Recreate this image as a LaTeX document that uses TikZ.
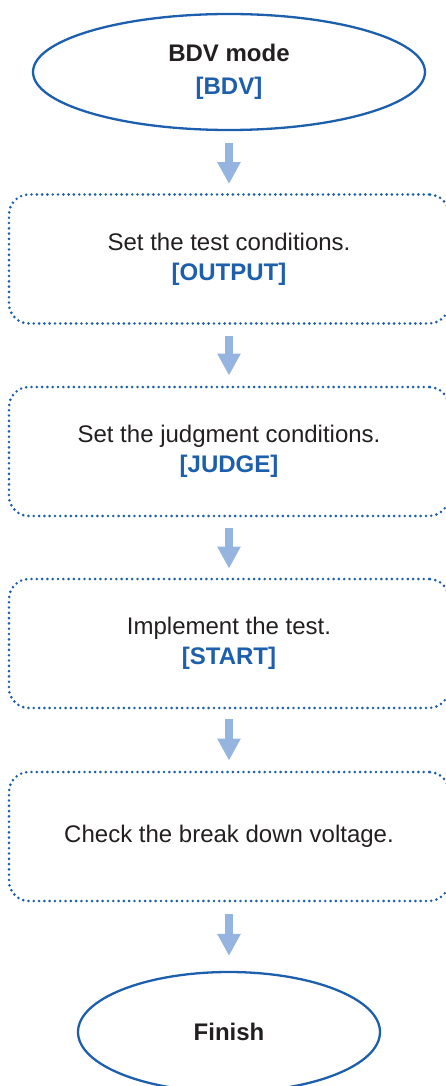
\documentclass[tikz,border=0pt]{standalone}
\usepackage{fontspec}
\setmainfont{Liberation Sans}
\usetikzlibrary{shapes.geometric,arrows.meta}
\definecolor{bblue}{HTML}{1D5FAC}
\definecolor{ablue}{HTML}{95B4E0}
\definecolor{tblack}{HTML}{231F20}
\begin{document}
\begin{tikzpicture}[x=1pt,y=1pt,
  txt/.style={font=\fontsize{24}{30}\selectfont, text=tblack, align=center},
  oval/.style={ellipse, draw=bblue, line width=2.3pt, inner sep=0pt, txt},
  stepbox/.style={rectangle, rounded corners=20pt, draw=bblue, line width=2.9pt,
     line cap=round, dash pattern=on 0pt off 5.3pt, minimum width=440pt,
     minimum height=129pt, inner sep=0pt, txt},
  flow/.style={draw=ablue, line width=8pt,
     -{Triangle[width=22pt,length=22pt,color=ablue]}}
]
\useasboundingbox (0,0) rectangle (446,-1086);
\node[oval, minimum width=392pt, minimum height=116pt] (start) at (229,-72)
  {\textbf{BDV mode}\\[3pt]\textcolor{bblue}{\textbf{[BDV]}}};
\node[stepbox] (s1) at (229,-259)
  {Set the test conditions.\\\textcolor{bblue}{\textbf{[OUTPUT]}}};
\node[stepbox] (s2) at (229,-451.5)
  {Set the judgment conditions.\\\textcolor{bblue}{\textbf{[JUDGE]}}};
\node[stepbox] (s3) at (229,-643.5)
  {Implement the test.\\\textcolor{bblue}{\textbf{[START]}}};
\node[stepbox] (s4) at (229,-836.5)
  {Check the break down voltage.};
\node[oval, minimum width=302pt, minimum height=120pt] (fin) at (229,-1032)
  {\textbf{Finish}};
\draw[flow, shorten <=12pt, shorten >=9pt] (start.south) -- (s1.north);
\draw[flow, shorten <=11pt, shorten >=10pt] (s1.south) -- (s2.north);
\draw[flow, shorten <=11pt, shorten >=9pt] (s2.south) -- (s3.north);
\draw[flow, shorten <=10pt, shorten >=10pt] (s3.south) -- (s4.north);
\draw[flow, shorten <=12pt, shorten >=15pt] (s4.south) -- (fin.north);
\end{tikzpicture}
\end{document}
